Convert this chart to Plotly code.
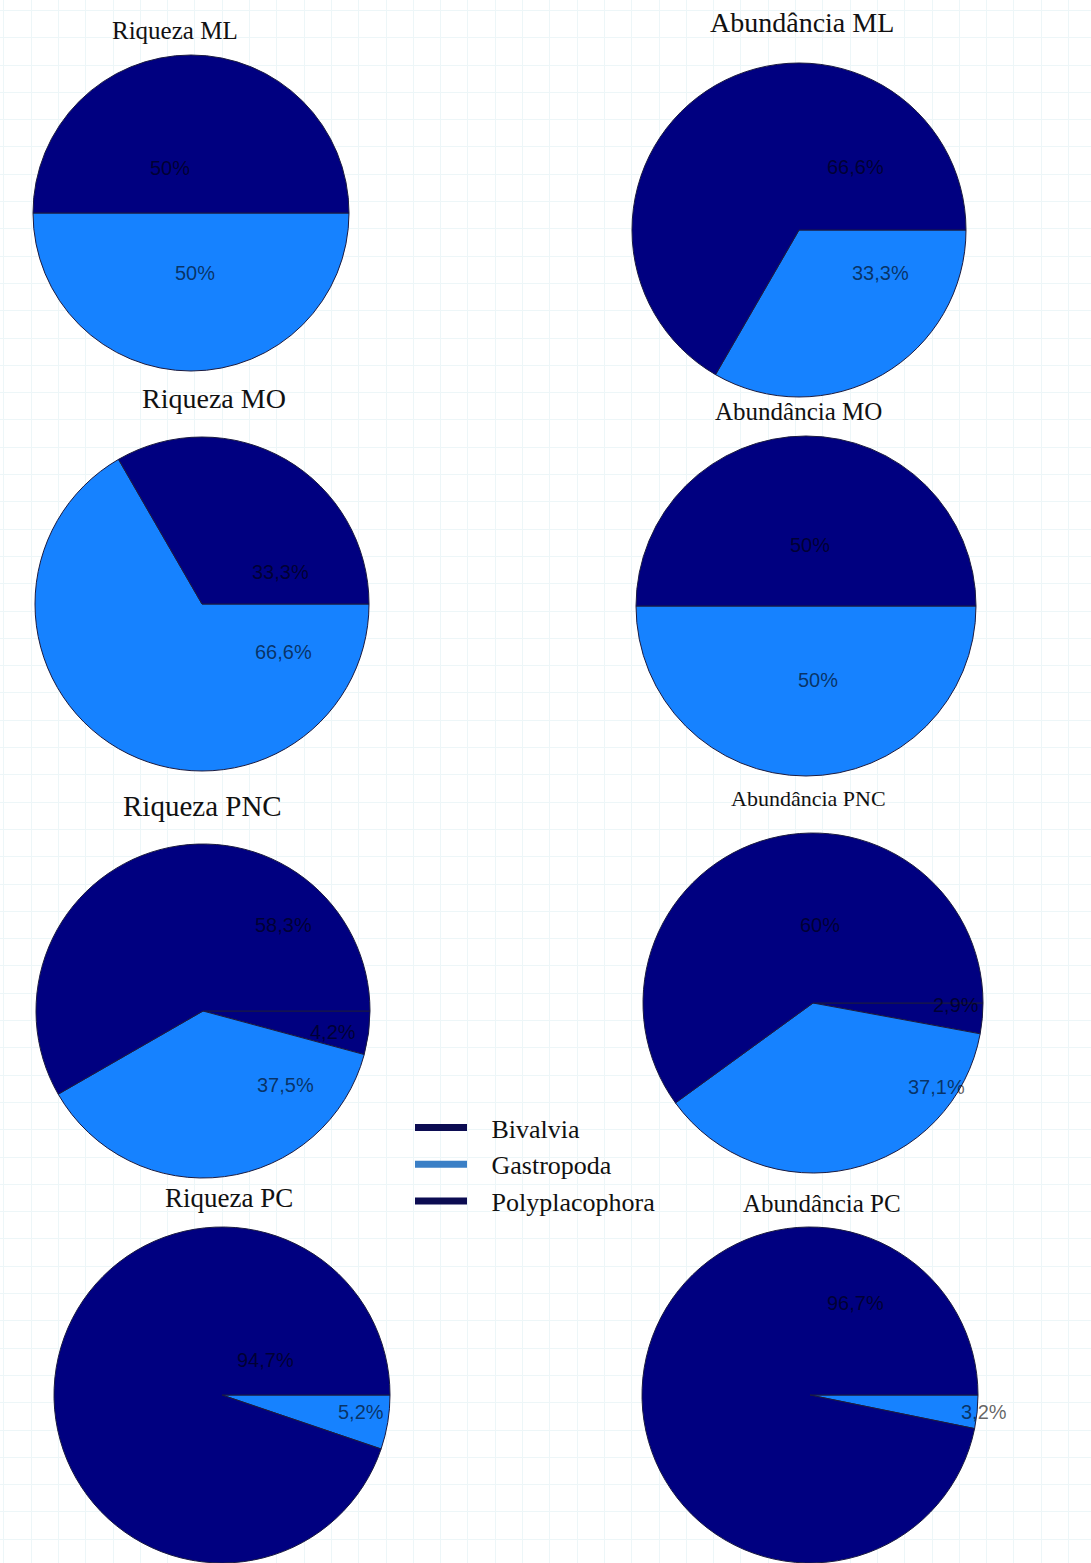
import plotly.graph_objects as go

# Classes de moluscos e proporções (%) por área
categorias = ["Bivalvia", "Gastropoda", "Polyplacophora"]
riqueza_ml = [50, 50, 0]
abundancia_ml = [66.6, 33.3, 0]
riqueza_mo = [33.3, 66.6, 0]
abundancia_mo = [50, 50, 0]
riqueza_pnc = [58.3, 37.5, 4.2]
abundancia_pnc = [60, 37.1, 2.9]
riqueza_pc = [94.7, 5.2, 0]
abundancia_pc = [96.7, 3.2, 0]

titulos = ["Riqueza ML", "Abundância ML", "Riqueza MO", "Abundância MO",
           "Riqueza PNC", "Abundância PNC", "Riqueza PC", "Abundância PC"]
series = [riqueza_ml, abundancia_ml, riqueza_mo, abundancia_mo,
          riqueza_pnc, abundancia_pnc, riqueza_pc, abundancia_pc]

W, H = 1091, 1563
cores_fatias = ["#000080", "#1682ff", "#000080"]
cores_legenda = ["#0c0c52", "#3a7fc6", "#0c0c52"]

# Posição (px) de cada gráfico: centro, raio, título, deslocamento dos rótulos
paineis = [
    dict(cx=191, cy=213, r=158, tx=175, ty=30, ts=25, rot=[(-21, -45), (4, 60), None]),
    dict(cx=799, cy=230, r=167, tx=802, ty=22, ts=28, rot=[(56, -63), (81, 43), None]),
    dict(cx=202, cy=604, r=167, tx=214, ty=398, ts=28, rot=[(78, -32), (81, 48), None]),
    dict(cx=806, cy=606, r=170, tx=798, ty=411, ts=25, rot=[(4, -61), (12, 74), None]),
    dict(cx=203, cy=1011, r=167, tx=202, ty=806, ts=29, rot=[(80, -86), (82, 74), (130, 21)]),
    dict(cx=813, cy=1003, r=170, tx=808, ty=798, ts=22, rot=[(7, -78), (123, 84), (143, 2)]),
    dict(cx=222, cy=1395, r=168, tx=229, ty=1198, ts=27, rot=[(43, -35), (139, 17), None]),
    dict(cx=810, cy=1395, r=168, tx=822, ty=1203, ts=25, rot=[(45, -92), (174, 17), None]),
]


def rotulo(v):
    return f"{v:g}".replace(".", ",") + "%"


def frac(v):
    return min(1.0, max(0.0, v))


fig = go.Figure()

# Entradas da legenda (linhas grossas); espaços não separáveis afastam o texto da linha
for nome, cor in zip(categorias, cores_legenda):
    fig.add_trace(go.Scatter(x=[None], y=[None], mode="lines",
                             name="\u00a0\u00a0\u00a0" + nome,
                             line=dict(color=cor, width=7), showlegend=True,
                             hoverinfo="skip"))

anotacoes = []
for titulo, valores, p in zip(titulos, series, paineis):
    # Fatias em sentido horário a partir das 3 horas, na ordem inversa:
    # Bivalvia fica acima da linha horizontal, seguida (anti-horário) por Gastropoda e Polyplacophora
    fig.add_trace(go.Pie(
        labels=categorias[::-1], values=valores[::-1], sort=False,
        direction="clockwise", rotation=90,
        marker=dict(colors=cores_fatias[::-1], line=dict(color="#1b1b40", width=1)),
        textinfo="none", hoverinfo="label+percent", showlegend=False,
        domain=dict(x=[frac((p["cx"] - p["r"]) / W), frac((p["cx"] + p["r"]) / W)],
                    y=[frac(1 - (p["cy"] + p["r"]) / H), frac(1 - (p["cy"] - p["r"]) / H)]),
    ))
    anotacoes.append(dict(x=p["tx"], y=p["ty"], xref="x", yref="y", text=titulo,
                          showarrow=False, xanchor="center", yanchor="middle",
                          font=dict(family="Liberation Serif", size=p["ts"], color="#111111")))
    for v, off in zip(valores, p["rot"]):
        if off is None or v == 0:
            continue
        anotacoes.append(dict(x=p["cx"] + off[0], y=p["cy"] + off[1], xref="x", yref="y",
                              text=rotulo(v), showarrow=False,
                              xanchor="center", yanchor="middle",
                              font=dict(family="Liberation Sans", size=20,
                                        color="rgba(0,0,0,0.62)")))

fig.update_layout(
    width=W, height=H,
    margin=dict(l=0, r=0, t=0, b=0),
    paper_bgcolor="white", plot_bgcolor="white",
    xaxis=dict(range=[0, W], domain=[0, 1], showgrid=True, gridcolor="#edf6f8",
               gridwidth=1, tick0=3.8, dtick=27.3, showticklabels=False,
               zeroline=False, showline=False, ticks="", fixedrange=True),
    yaxis=dict(range=[H, 0], domain=[0, 1], showgrid=True, gridcolor="#edf6f8",
               gridwidth=1, tick0=10.4, dtick=27.3, showticklabels=False,
               zeroline=False, showline=False, ticks="", fixedrange=True),
    legend=dict(x=410 / W, y=1 - 1104 / H, xanchor="left", yanchor="top",
                bgcolor="rgba(0,0,0,0)",
                font=dict(family="Liberation Serif", size=26, color="#111111"),
                tracegroupgap=0, itemwidth=52),
    annotations=anotacoes,
)

fig.write_html("out.html")
